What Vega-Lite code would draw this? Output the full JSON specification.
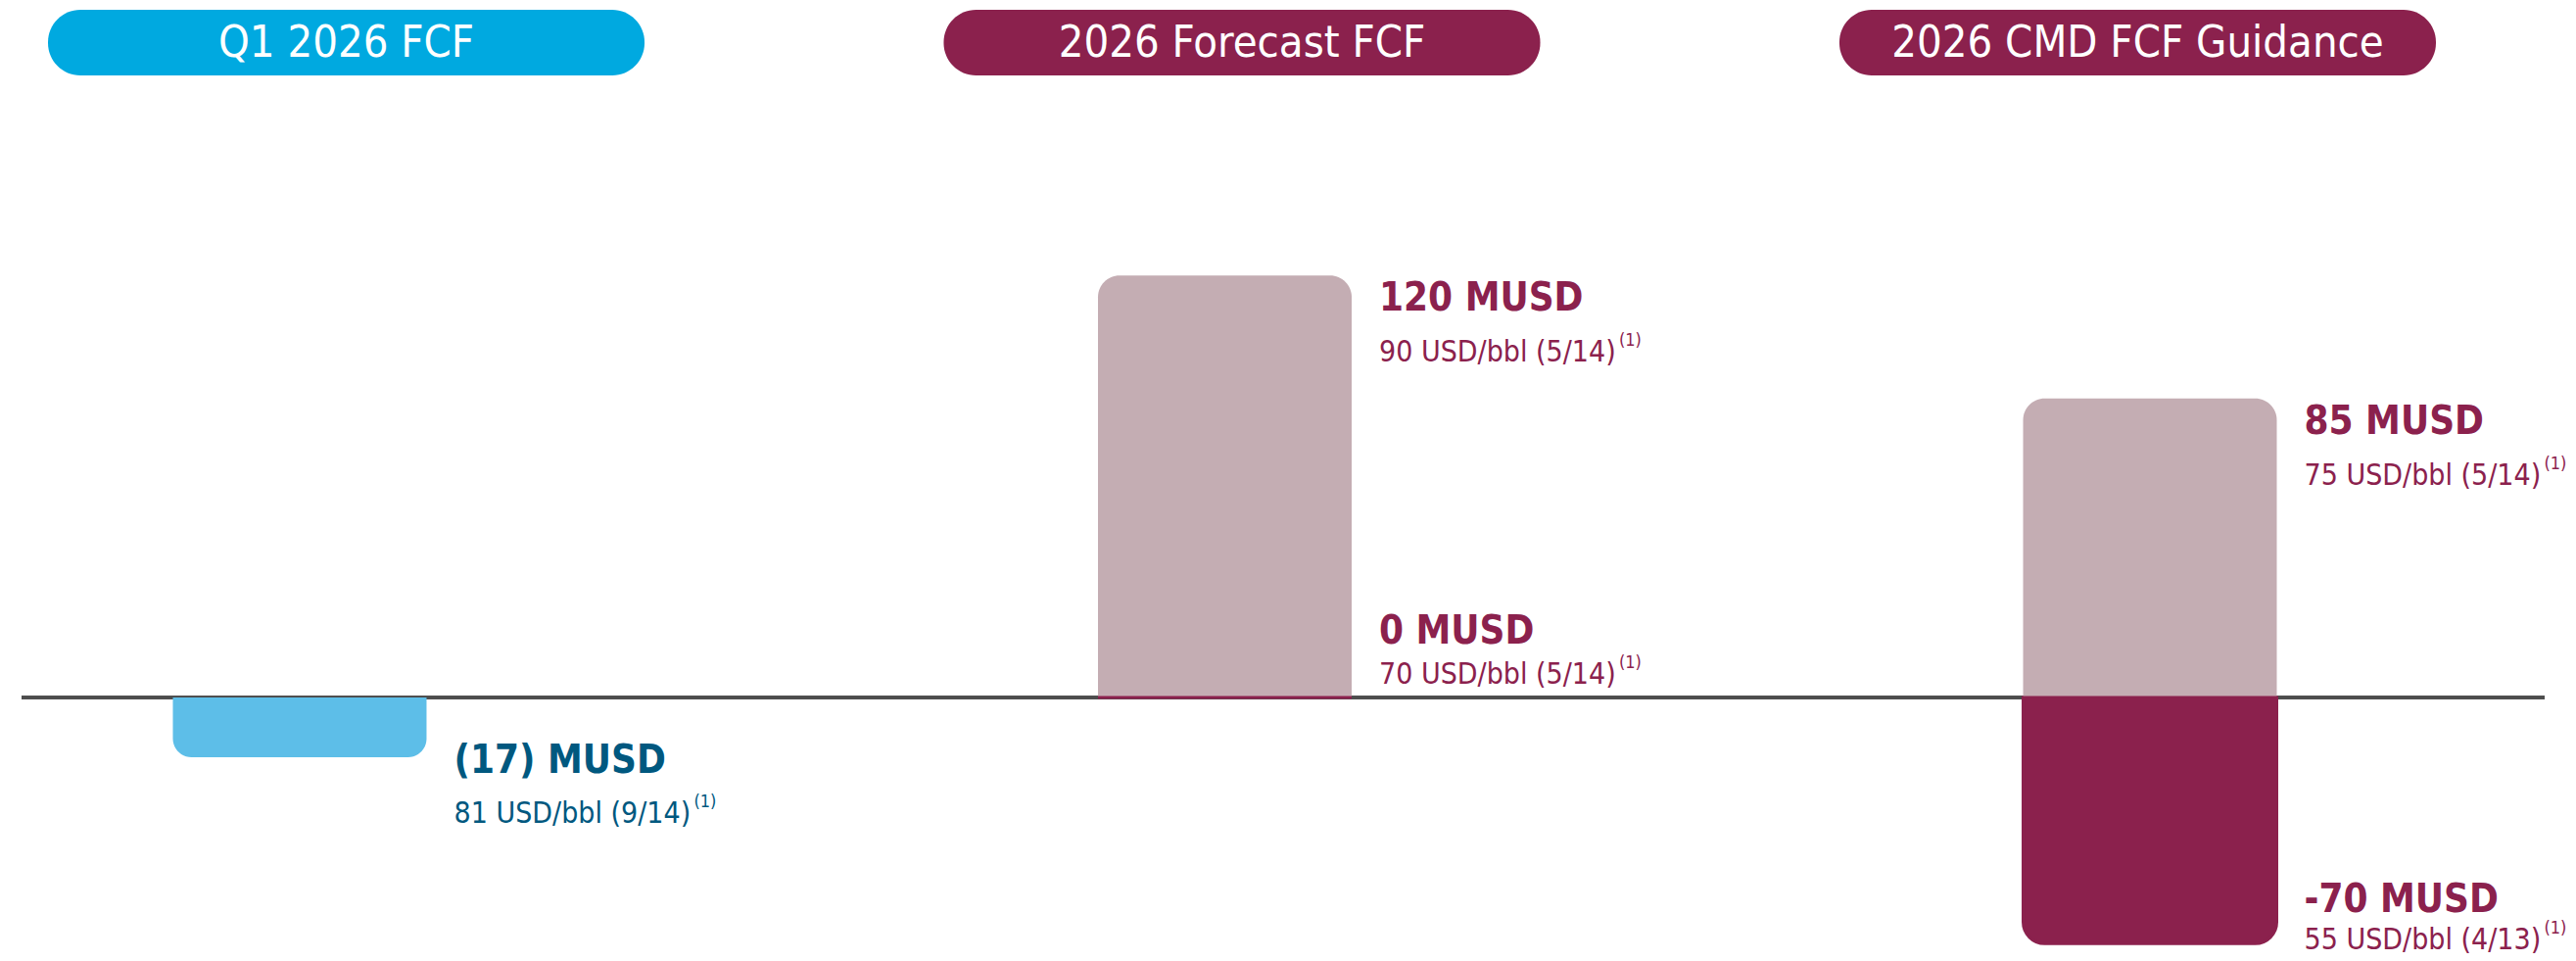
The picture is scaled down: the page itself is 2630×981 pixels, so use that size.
{
  "$schema": "https://vega.github.io/schema/vega-lite/v6.json",
  "padding": {"left": 20, "top": 10, "right": 34, "bottom": 0},
  "background": "white",
  "config": {"view": {"stroke": null}, "font": "DejaVu Sans Condensed, DejaVu Sans, sans-serif"},
  "spacing": 13,
  "resolve": {"scale": {"x": "independent", "y": "independent", "color": "independent"}},
  "vconcat": [
    {
      "width": 2576,
      "height": 67,
      "data": {"values": [
        {"panel": "Q1 2026 FCF", "kind": "actual"},
        {"panel": "2026 Forecast FCF", "kind": "plan"},
        {"panel": "2026 CMD FCF Guidance", "kind": "plan"}
      ]},
      "layer": [
        {
          "mark": {"type": "bar", "cornerRadius": 33},
          "encoding": {
            "x": {"field": "panel", "type": "nominal", "sort": null, "axis": null, "scale": {"range": [27, 2465], "paddingInner": 0.334, "paddingOuter": 0}},
            "color": {"field": "kind", "type": "nominal", "scale": {"domain": ["actual", "plan"], "range": ["#00A9E0", "#8B214D"]}, "legend": null}
          }
        },
        {
          "mark": {"type": "text", "color": "white", "fontSize": 45, "baseline": "middle", "align": "center"},
          "encoding": {
            "x": {"field": "panel", "type": "nominal", "sort": null, "axis": null},
            "text": {"field": "panel"}
          }
        }
      ]
    },
    {
      "width": 2576,
      "height": 891,
      "data": {"values": [
        {"panel": "Q1 2026 FCF", "scenario": "actual", "value": -17, "title": "(17) MUSD", "sub": "81 USD/bbl (9/14)", "note": "(1)"},
        {"panel": "2026 Forecast FCF", "scenario": "high", "value": 120, "title": "120 MUSD", "sub": "90 USD/bbl (5/14)", "note": "(1)"},
        {"panel": "2026 Forecast FCF", "scenario": "low", "value": 0, "title": "0 MUSD", "sub": "70 USD/bbl (5/14)", "note": "(1)"},
        {"panel": "2026 CMD FCF Guidance", "scenario": "high", "value": 85, "title": "85 MUSD", "sub": "75 USD/bbl (5/14)", "note": "(1)"},
        {"panel": "2026 CMD FCF Guidance", "scenario": "low", "value": -70, "title": "-70 MUSD", "sub": "55 USD/bbl (4/13)", "note": "(1)"}
      ]},
      "layer": [
        {
          "mark": {"type": "rule", "color": "#4D4D4D", "strokeWidth": 3},
          "encoding": {"y": {"datum": 0, "type": "quantitative", "axis": null, "scale": {"domain": [-74.93, 173.26], "nice": false, "zero": false}}}
        },
        {
          "transform": [{"filter": "datum.scenario === 'high'"}],
          "mark": {"type": "bar", "color": "#C4ADB3", "cornerRadiusTopLeft": 22, "cornerRadiusTopRight": 22},
          "encoding": {
            "x": {"field": "panel", "type": "nominal", "axis": null, "scale": {"domain": ["Q1 2026 FCF", "2026 Forecast FCF", "2026 CMD FCF Guidance"], "range": [154.5, 2302.5], "paddingInner": 0.7258, "paddingOuter": 0}},
            "y": {"field": "value", "type": "quantitative", "axis": null},
            "y2": {"datum": 0}
          }
        },
        {
          "transform": [{"filter": "datum.scenario === 'low'"}],
          "mark": {"type": "bar", "color": "#8B214D", "stroke": "#8B214D", "strokeWidth": 3, "cornerRadiusBottomLeft": 22, "cornerRadiusBottomRight": 22},
          "encoding": {
            "x": {"field": "panel", "type": "nominal", "axis": null},
            "y": {"field": "value", "type": "quantitative", "axis": null},
            "y2": {"datum": 0}
          }
        },
        {
          "transform": [{"filter": "datum.scenario === 'actual'"}],
          "mark": {"type": "bar", "color": "#5DBEE8", "cornerRadiusBottomLeft": 19, "cornerRadiusBottomRight": 19},
          "encoding": {
            "x": {"field": "panel", "type": "nominal", "axis": null},
            "y": {"field": "value", "type": "quantitative", "axis": null},
            "y2": {"datum": 0}
          }
        },
        {
          "transform": [{"filter": "datum.scenario === 'high'"}],
          "mark": {"type": "text", "align": "left", "baseline": "alphabetic", "dx": 28, "dy": 36, "fontSize": 40, "fontWeight": "bold", "color": "#8B214D"},
          "encoding": {"x": {"field": "panel", "type": "nominal", "bandPosition": 1, "axis": null}, "y": {"field": "value", "type": "quantitative", "axis": null}, "text": {"field": "title"}}
        },
        {
          "transform": [{"filter": "datum.scenario === 'high'"}],
          "mark": {"type": "text", "align": "left", "baseline": "alphabetic", "dx": 28, "dy": 88, "fontSize": 30, "color": "#8B214D"},
          "encoding": {"x": {"field": "panel", "type": "nominal", "bandPosition": 1, "axis": null}, "y": {"field": "value", "type": "quantitative", "axis": null}, "text": {"field": "sub"}}
        },
        {
          "transform": [{"filter": "datum.scenario === 'high'"}],
          "mark": {"type": "text", "align": "left", "baseline": "alphabetic", "dx": 273, "dy": 72, "fontSize": 18, "color": "#8B214D"},
          "encoding": {"x": {"field": "panel", "type": "nominal", "bandPosition": 1, "axis": null}, "y": {"field": "value", "type": "quantitative", "axis": null}, "text": {"field": "note"}}
        },
        {
          "transform": [{"filter": "datum.scenario === 'low' && datum.value === 0"}],
          "mark": {"type": "text", "align": "left", "baseline": "alphabetic", "dx": 28, "dy": -55, "fontSize": 40, "fontWeight": "bold", "color": "#8B214D"},
          "encoding": {"x": {"field": "panel", "type": "nominal", "bandPosition": 1, "axis": null}, "y": {"field": "value", "type": "quantitative", "axis": null}, "text": {"field": "title"}}
        },
        {
          "transform": [{"filter": "datum.scenario === 'low' && datum.value === 0"}],
          "mark": {"type": "text", "align": "left", "baseline": "alphabetic", "dx": 28, "dy": -14, "fontSize": 30, "color": "#8B214D"},
          "encoding": {"x": {"field": "panel", "type": "nominal", "bandPosition": 1, "axis": null}, "y": {"field": "value", "type": "quantitative", "axis": null}, "text": {"field": "sub"}}
        },
        {
          "transform": [{"filter": "datum.scenario === 'low' && datum.value === 0"}],
          "mark": {"type": "text", "align": "left", "baseline": "alphabetic", "dx": 273, "dy": -30, "fontSize": 18, "color": "#8B214D"},
          "encoding": {"x": {"field": "panel", "type": "nominal", "bandPosition": 1, "axis": null}, "y": {"field": "value", "type": "quantitative", "axis": null}, "text": {"field": "note"}}
        },
        {
          "transform": [{"filter": "datum.scenario === 'low' && datum.value < 0"}],
          "mark": {"type": "text", "align": "left", "baseline": "alphabetic", "dx": 28, "dy": -32, "fontSize": 40, "fontWeight": "bold", "color": "#8B214D"},
          "encoding": {"x": {"field": "panel", "type": "nominal", "bandPosition": 1, "axis": null}, "y": {"field": "value", "type": "quantitative", "axis": null}, "text": {"field": "title"}}
        },
        {
          "transform": [{"filter": "datum.scenario === 'low' && datum.value < 0"}],
          "mark": {"type": "text", "align": "left", "baseline": "alphabetic", "dx": 28, "dy": 6, "fontSize": 30, "color": "#8B214D"},
          "encoding": {"x": {"field": "panel", "type": "nominal", "bandPosition": 1, "axis": null}, "y": {"field": "value", "type": "quantitative", "axis": null}, "text": {"field": "sub"}}
        },
        {
          "transform": [{"filter": "datum.scenario === 'low' && datum.value < 0"}],
          "mark": {"type": "text", "align": "left", "baseline": "alphabetic", "dx": 273, "dy": -10, "fontSize": 18, "color": "#8B214D"},
          "encoding": {"x": {"field": "panel", "type": "nominal", "bandPosition": 1, "axis": null}, "y": {"field": "value", "type": "quantitative", "axis": null}, "text": {"field": "note"}}
        },
        {
          "transform": [{"filter": "datum.scenario === 'actual'"}],
          "mark": {"type": "text", "align": "left", "baseline": "alphabetic", "dx": 28, "dy": 16, "fontSize": 40, "fontWeight": "bold", "color": "#00587F"},
          "encoding": {"x": {"field": "panel", "type": "nominal", "bandPosition": 1, "axis": null}, "y": {"field": "value", "type": "quantitative", "axis": null}, "text": {"field": "title"}}
        },
        {
          "transform": [{"filter": "datum.scenario === 'actual'"}],
          "mark": {"type": "text", "align": "left", "baseline": "alphabetic", "dx": 28, "dy": 67, "fontSize": 30, "color": "#00587F"},
          "encoding": {"x": {"field": "panel", "type": "nominal", "bandPosition": 1, "axis": null}, "y": {"field": "value", "type": "quantitative", "axis": null}, "text": {"field": "sub"}}
        },
        {
          "transform": [{"filter": "datum.scenario === 'actual'"}],
          "mark": {"type": "text", "align": "left", "baseline": "alphabetic", "dx": 273, "dy": 51, "fontSize": 18, "color": "#00587F"},
          "encoding": {"x": {"field": "panel", "type": "nominal", "bandPosition": 1, "axis": null}, "y": {"field": "value", "type": "quantitative", "axis": null}, "text": {"field": "note"}}
        }
      ]
    }
  ]
}
